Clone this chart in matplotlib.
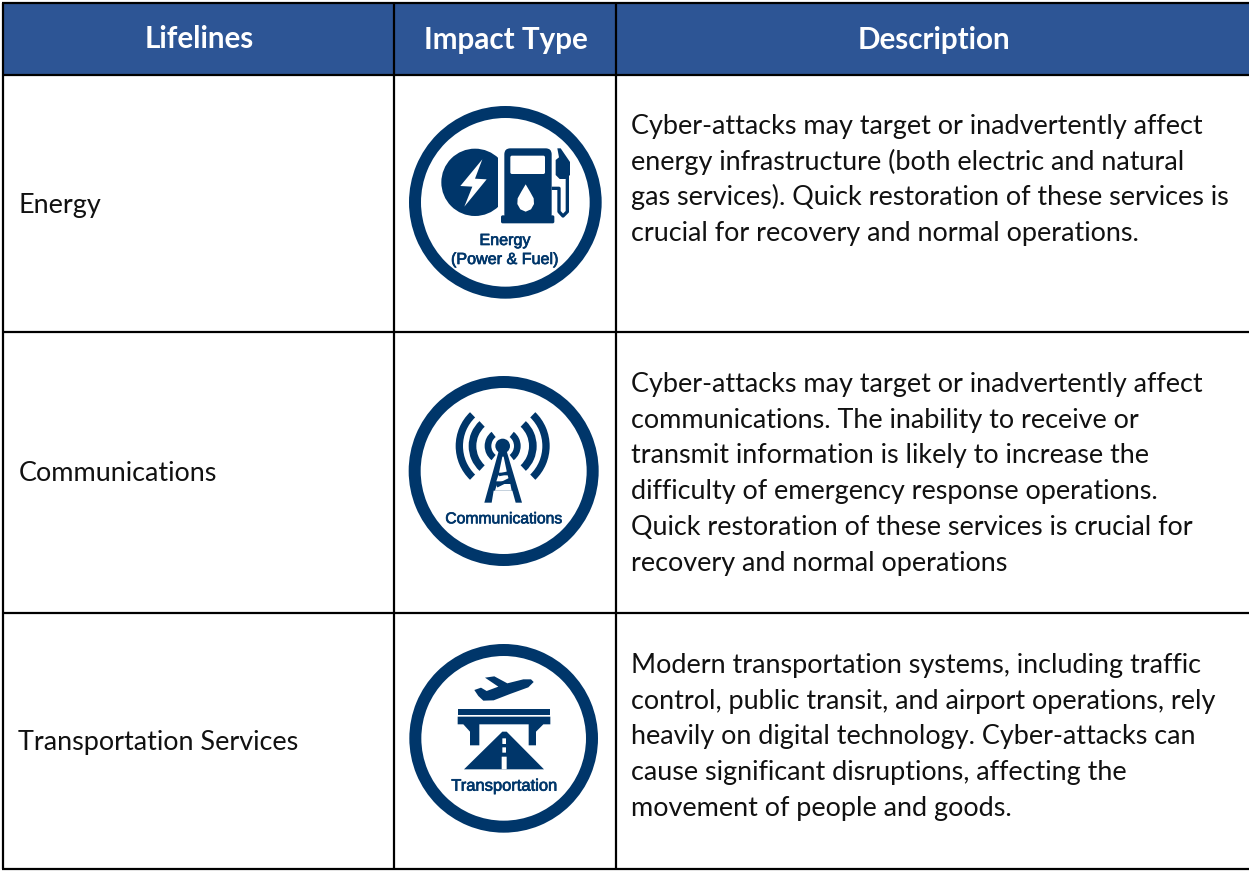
import numpy as np
import matplotlib
matplotlib.use("Agg")
import matplotlib.pyplot as plt
import matplotlib.patheffects as pe
from matplotlib.patches import Circle, Polygon, Rectangle, Wedge, FancyBboxPatch

headers = ["Lifelines", "Impact Type", "Description"]
lifelines = ["Energy", "Communications", "Transportation Services"]
descriptions = [
    ["Cyber-attacks may target or inadvertently affect",
     "energy infrastructure (both electric and natural",
     "gas services). Quick restoration of these services is",
     "crucial for recovery and normal operations."],
    ["Cyber-attacks may target or inadvertently affect",
     "communications. The inability to receive or",
     "transmit information is likely to increase the",
     "difficulty of emergency response operations.",
     "Quick restoration of these services is crucial for",
     "recovery and normal operations"],
    ["Modern transportation systems, including traffic",
     "control, public transit, and airport operations, rely",
     "heavily on digital technology. Cyber-attacks can",
     "cause significant disruptions, affecting the",
     "movement of people and goods."],
]
icon_labels = [["Energy", "(Power & Fuel)"], ["Communications"], ["Transportation"]]

# grid in pixels of the picture
col_edges = [3, 394, 616, 1252]
row_edges = [3, 75, 332.5, 612.5, 869]
header_x = [199, 506, 933.5]
label_base = [213, 481, 750]
desc_first = [134, 392, 673]
line_gap = 35.7

NAVY = "#00366A"
HEADER = "#2D5595"
TEXT_FONT = ["Lato", "DejaVu Sans"]
TEXT_SIZE = 19.45

fig = plt.figure(figsize=(12.49, 8.71), dpi=100)
ax = fig.add_axes([0, 0, 1, 1])
ax.set_xlim(0, 1249)
ax.set_ylim(871, 0)
ax.axis("off")

ax.add_patch(Rectangle((col_edges[0], row_edges[0]), col_edges[-1] - col_edges[0],
                       row_edges[1] - row_edges[0], fc=HEADER, ec="none"))
for x in col_edges[:3]:
    ax.plot([x, x], [row_edges[0], row_edges[-1]], color="black", lw=1.6, solid_capstyle="butt")
for y in row_edges:
    ax.plot([col_edges[0] - 1, 1249], [y, y], color="black", lw=1.6, solid_capstyle="butt")

for i, h in enumerate(headers):
    ax.text(header_x[i], 48.5, h, color="white", fontsize=21.3, fontweight="bold",
            family=TEXT_FONT, ha="center", va="baseline")

for i, name in enumerate(lifelines):
    ax.text(18.5, label_base[i], name, fontsize=TEXT_SIZE, family=TEXT_FONT, color="#111111", va="baseline")
    for j, line in enumerate(descriptions[i]):
        ax.text(631, desc_first[i] + j * line_gap, line, fontsize=TEXT_SIZE, family=TEXT_FONT,
                color="#111111", va="baseline")


# icon shapes are given in 3x crop coordinates, z() moves them to the picture
def z(pts, ox, oy):
    return [(ox + px / 3, oy + py / 3) for px, py in pts]


def poly(pts, ox, oy, color=NAVY):
    ax.add_patch(Polygon(z(pts, ox, oy), closed=True, fc=color, ec="none"))


def rrect(x0, y0, x1, y1, r, ox, oy, color=NAVY):
    ax.add_patch(FancyBboxPatch((ox + x0 / 3, oy + y0 / 3), (x1 - x0) / 3, (y1 - y0) / 3,
                                boxstyle="round,pad=0,rounding_size=%f" % (r / 3),
                                fc=color, ec="none"))


def stroke(pts, width, ox, oy, color=NAVY, cap="butt"):
    xy = np.array(z(pts, ox, oy))
    ax.plot(xy[:, 0], xy[:, 1], color=color, lw=width * 0.72 / 3, solid_capstyle=cap,
            solid_joinstyle="round")


def ring(cx, cy, r, ox, oy):
    ax.add_patch(Wedge((ox + cx / 3, oy + cy / 3), r / 3, 0, 360, width=36 / 3, fc=NAVY, ec="none"))


def icon_text(lines, ys, size, cx, ox, oy):
    for t, y in zip(lines, ys):
        ax.text(ox + cx / 3, oy + y / 3, t, color=NAVY, fontsize=size, family=["Liberation Sans"],
                ha="center", va="baseline",
                path_effects=[pe.withStroke(linewidth=0.5, foreground=NAVY)])


# energy
ox, oy = 395, 90
ring(331, 337, 289, ox, oy)
disc = Circle((ox + 240 / 3, oy + 277 / 3), 101 / 3, fc=NAVY, ec="none")
ax.add_patch(disc)
disc.set_clip_path(Rectangle((ox, oy), 308 / 3, 220, transform=ax.transData))
poly([(262, 208), (196, 288), (232, 290), (208, 350), (275, 268), (240, 266)], ox, oy, "white")
rrect(328, 175, 470, 390, 18, ox, oy)
rrect(318, 376, 478, 400, 5, ox, oy)
rrect(346, 197, 450, 252, 5, ox, oy, "white")
poly([(392, 283), (405, 305), (416, 325), (417, 342), (408, 358), (392, 365), (376, 358),
      (367, 342), (368, 325), (379, 305)], ox, oy, "white")
poly([(487, 175), (497, 175), (525, 216), (525, 255), (512, 267), (494, 267), (482, 255), (482, 210), (492, 202)],
     ox, oy)
stroke([(470, 295), (492, 295), (492, 365), (504, 378), (517, 365), (517, 255)], 10, ox, oy)
icon_text(icon_labels[0], [465, 522], 11.6, 330, ox, oy)

# communications
ox, oy = 395, 360
ring(326, 333, 285, ox, oy)
cx, cy = 323, 258
for r, w, half in [(54, 20, 52), (102, 23, 47), (141, 22, 46)]:
    for a in [180, 0]:
        ax.add_patch(Wedge((ox + cx / 3, oy + cy / 3), r / 3, a - half, a + half, width=w / 3,
                           fc=NAVY, ec="none"))
ax.add_patch(Circle((ox + cx / 3, oy + cy / 3), 22 / 3, fc=NAVY, ec="none"))
poly([(312, 270), (334, 270), (381, 428), (362, 428), (352, 392), (296, 392), (290, 428), (268, 428)], ox, oy)
poly([(322, 290), (326, 290), (336, 338), (312, 338)], ox, oy, "white")
poly([(310, 346), (338, 346), (343, 364), (304, 364)], ox, oy, "white")
poly([(306, 372), (346, 372), (350, 392), (300, 392)], ox, oy, "white")
stroke([(305, 378), (345, 358)], 10, ox, oy)
stroke([(312, 345), (338, 338)], 8, ox, oy)
icon_text(icon_labels[1], [490], 11.3, 327, ox, oy)

# transportation
ox, oy = 395, 630
ring(326, 325, 283, ox, oy)
poly([(270, 143), (298, 139), (337, 160), (385, 148), (408, 148), (416, 156), (400, 172), (345, 192),
      (296, 211), (265, 212), (250, 198), (238, 180), (258, 173), (275, 183), (310, 170)], ox, oy)
poly([(188, 238), (466, 238), (466, 255), (188, 255)], ox, oy)
poly([(188, 260), (466, 260), (466, 283), (445, 283), (423, 305), (423, 346), (401, 346), (401, 283),
      (253, 283), (253, 346), (225, 346), (225, 305), (205, 283), (188, 283)], ox, oy)
poly([(322, 305), (335, 305), (447, 418), (207, 418)], ox, oy)
rrect(322, 325, 333, 342, 1, ox, oy, "white")
rrect(322, 352, 333, 368, 1, ox, oy, "white")
rrect(320, 380, 335, 418, 1, ox, oy, "white")
icon_text(icon_labels[2], [482], 11.9, 329, ox, oy)

fig.savefig("out.png", dpi=100)
